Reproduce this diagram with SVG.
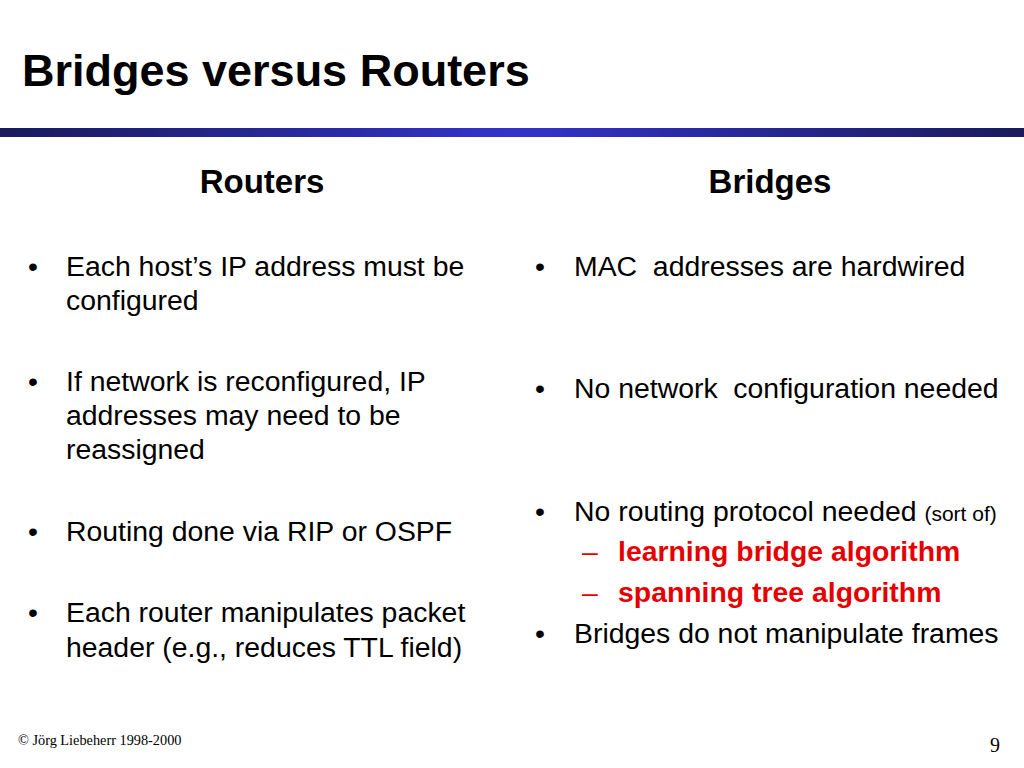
<svg xmlns="http://www.w3.org/2000/svg" width="1024" height="768" viewBox="0 0 1024 768">
<defs>
<linearGradient id="bar" x1="0" y1="0" x2="1" y2="0">
<stop offset="0" stop-color="#1a1a5c"/>
<stop offset="0.5" stop-color="#3333cc"/>
<stop offset="1" stop-color="#1a1a5c"/>
</linearGradient>
</defs>
<style>
.t{font-family:"Liberation Sans",Arial,sans-serif;fill:#000;white-space:pre}
.b{font-size:28.4px}
.h{font-size:33px;font-weight:bold;text-anchor:middle}
.r{font-size:28.4px;font-weight:bold;fill:#e60000}
.d{font-size:28.4px;fill:#e60000}
.f{font-family:"Liberation Serif","Times New Roman",serif;fill:#000}
</style>
<rect width="1024" height="768" fill="#fff"/>
<text id="title" class="t" x="22" y="86" font-size="45" font-weight="bold">Bridges versus Routers</text>
<rect id="rule" x="0" y="128" width="1024" height="9" fill="url(#bar)"/>
<g id="routers">
<text class="t h" x="262" y="193">Routers</text>
<text class="t b" x="28" y="276">•</text>
<text class="t b" x="66" y="276">Each host’s IP address must be</text>
<text class="t b" x="66" y="310">configured</text>
<text class="t b" x="28" y="391">•</text>
<text class="t b" x="66" y="391">If network is reconfigured, IP</text>
<text class="t b" x="66" y="425">addresses may need to be</text>
<text class="t b" x="66" y="459">reassigned</text>
<text class="t b" x="28" y="541">•</text>
<text class="t b" x="66" y="541">Routing done via RIP or OSPF</text>
<text class="t b" x="28" y="622">•</text>
<text class="t b" x="66" y="622">Each router manipulates packet</text>
<text class="t b" x="66" y="657">header (e.g., reduces TTL field)</text>
</g>
<g id="bridges">
<text class="t h" x="770" y="193">Bridges</text>
<text class="t b" x="535" y="276">•</text>
<text class="t b" x="574" y="276" xml:space="preserve">MAC  addresses are hardwired</text>
<text class="t b" x="535" y="398">•</text>
<text class="t b" x="574" y="398" xml:space="preserve">No network  configuration needed</text>
<text class="t b" x="535" y="521">•</text>
<text class="t b" x="574" y="521" xml:space="preserve">No routing protocol needed <tspan font-size="21">(sort of)</tspan></text>
<text class="t d" x="582" y="561">–</text>
<text class="t r" x="618" y="561">learning bridge algorithm</text>
<text class="t d" x="582" y="602">–</text>
<text class="t r" x="618" y="602">spanning tree algorithm</text>
<text class="t b" x="535" y="643">•</text>
<text class="t b" x="574" y="643">Bridges do not manipulate frames</text>
</g>
<text id="footer" class="f" x="18" y="745" font-size="14.3">© Jörg Liebeherr 1998-2000</text>
<text id="page" class="f" x="1000" y="752" font-size="20" text-anchor="end">9</text>
</svg>
